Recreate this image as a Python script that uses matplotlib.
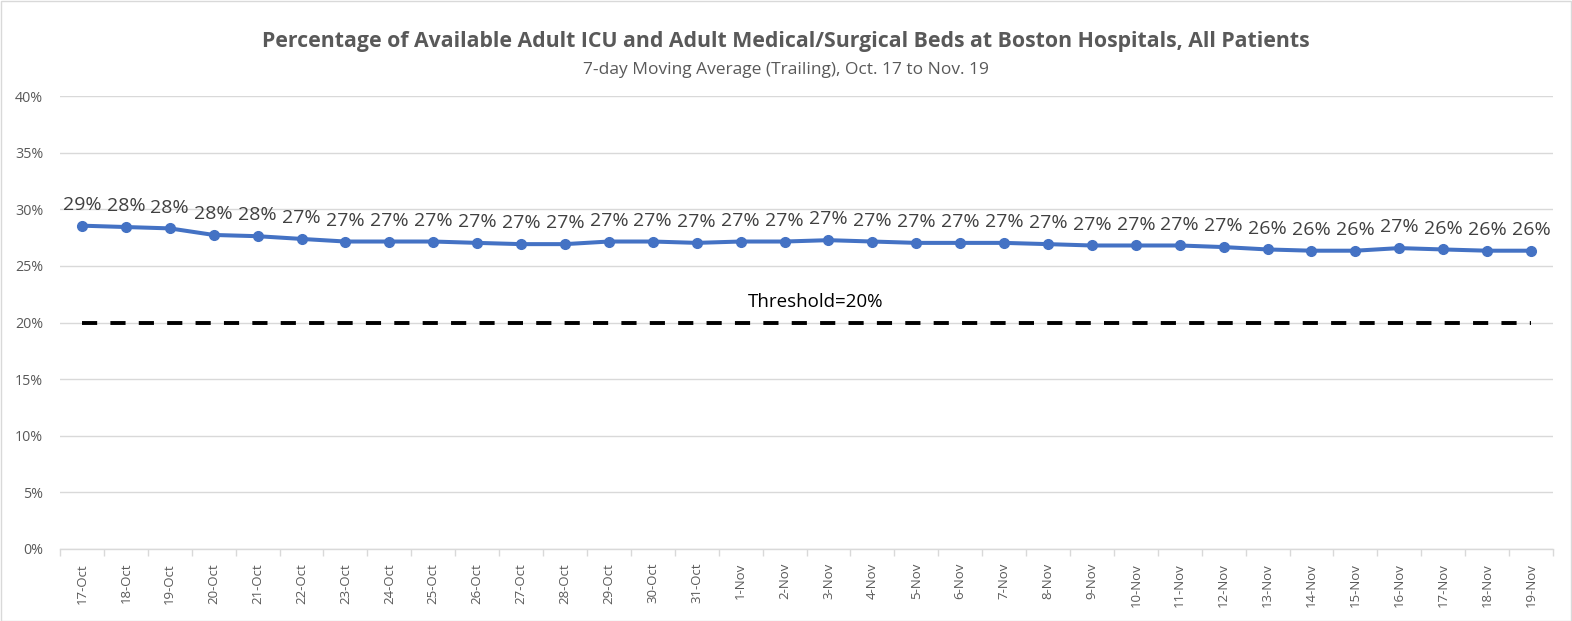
import matplotlib
matplotlib.use("Agg")
import matplotlib.pyplot as plt
from matplotlib.ticker import FuncFormatter, MultipleLocator, FixedLocator
from matplotlib.patches import Rectangle

dates = ["17-Oct", "18-Oct", "19-Oct", "20-Oct", "21-Oct", "22-Oct", "23-Oct", "24-Oct",
         "25-Oct", "26-Oct", "27-Oct", "28-Oct", "29-Oct", "30-Oct", "31-Oct",
         "1-Nov", "2-Nov", "3-Nov", "4-Nov", "5-Nov", "6-Nov", "7-Nov", "8-Nov", "9-Nov",
         "10-Nov", "11-Nov", "12-Nov", "13-Nov", "14-Nov", "15-Nov", "16-Nov", "17-Nov",
         "18-Nov", "19-Nov"]
available = [28.55, 28.43, 28.31, 27.73, 27.62, 27.38, 27.15, 27.15, 27.15, 27.03, 26.92,
             26.92, 27.15, 27.15, 27.03, 27.15, 27.15, 27.27, 27.15, 27.03, 27.03, 27.03,
             26.92, 26.80, 26.80, 26.80, 26.66, 26.45, 26.34, 26.34, 26.57, 26.45, 26.34, 26.34]
threshold = [20.0] * len(dates)
threshold_label = "Threshold=20%"

title = "Percentage of Available Adult ICU and Adult Medical/Surgical Beds at Boston Hospitals, All Patients"
subtitle = "7-day Moving Average (Trailing), Oct. 17 to Nov. 19"

plt.rcParams['font.family'] = ['Open Sans', 'DejaVu Sans']

W, H = 1572, 621
fig = plt.figure(figsize=(W / 100, H / 100), dpi=100)
ax = fig.add_axes([60 / W, 1 - 549 / H, (1553 - 60) / W, (549 - 96) / H])

x = list(range(len(dates)))
ax.plot(x, available, color="#4472C4", lw=2.9, marker="o", ms=7, zorder=4)
ax.plot(x, threshold, color="black", lw=2.8, dashes=(3.9, 3.4), zorder=3)

for xi, v in zip(x, available):
    ax.annotate(f"{round(v):d}%", (xi, v), xytext=(0, 8.5), textcoords="offset points",
                ha="center", va="bottom", fontsize=14, color="#404040")
ax.annotate(threshold_label, (17, 20), xytext=(-9, 8), textcoords="offset points",
            ha="center", va="bottom", fontsize=13.5, color="black")

ax.set_xlim(-0.5, len(dates) - 0.5)
ax.set_ylim(0, 40)
ax.yaxis.set_major_locator(MultipleLocator(5))
ax.yaxis.set_major_formatter(FuncFormatter(lambda v, p: f"{int(v)}%"))
ax.set_xticks(x)
ax.set_xticklabels(dates, rotation=90, fontsize=9.5, color="#595959")
ax.xaxis.set_minor_locator(FixedLocator([i - 0.5 for i in range(len(dates) + 1)]))
ax.tick_params(axis="x", which="major", length=0, pad=10)
ax.tick_params(axis="x", which="minor", length=5, color="#d9d9d9", width=1)
ax.tick_params(axis="y", length=0, labelsize=10.3, labelcolor="#595959", pad=12)
ax.grid(axis="y", color="#d9d9d9", lw=1)
ax.set_axisbelow(True)
for s in ["top", "right", "left"]:
    ax.spines[s].set_visible(False)
ax.spines["bottom"].set_color("#d9d9d9")
ax.spines["bottom"].set_linewidth(1)

fig.text(0.5, 1 - 42 / H, title, ha="center", va="center", fontsize=15.3,
         fontweight="bold", color="#595959")
fig.text(0.5, 1 - 70 / H, subtitle, ha="center", va="center", fontsize=12.5, color="#595959")

fig.add_artist(Rectangle((0.5 / W, 0.5 / H), (W - 1.5) / W, (H - 1.5) / H,
                         transform=fig.transFigure, fill=False, ec="#d9d9d9", lw=1))

fig.savefig("out.png", dpi=100)
